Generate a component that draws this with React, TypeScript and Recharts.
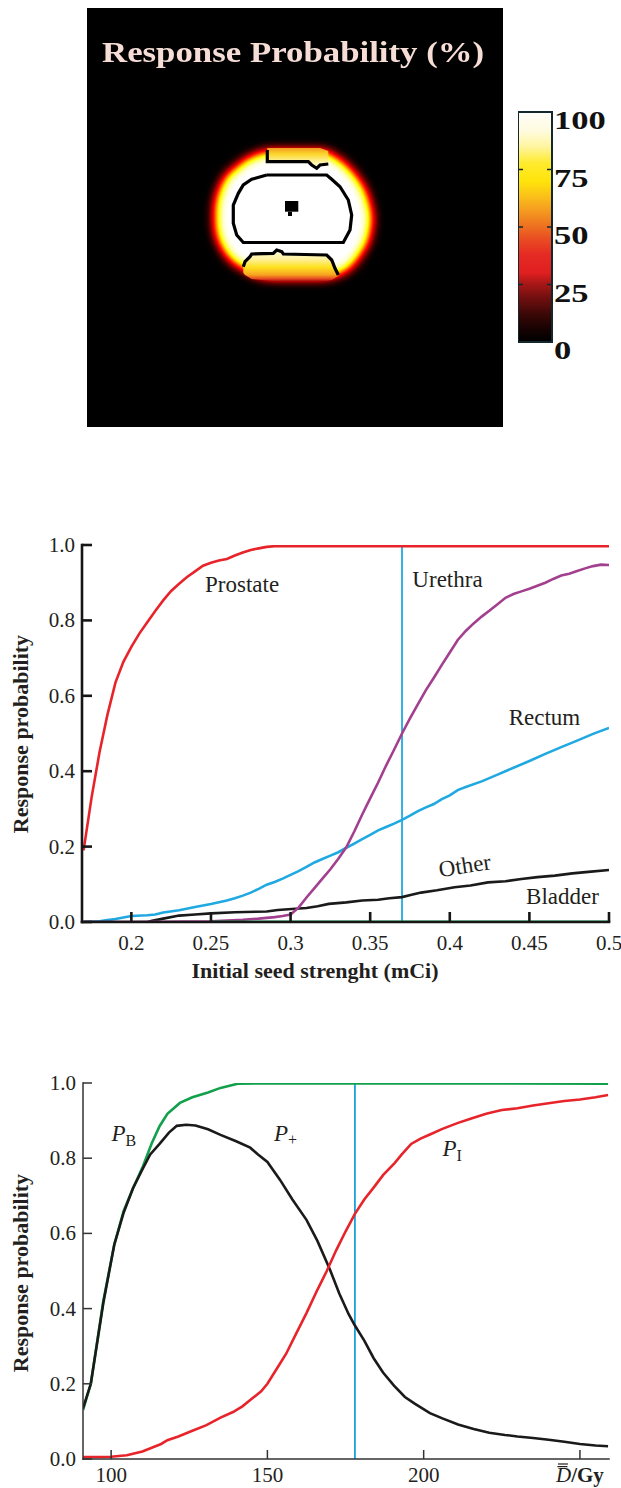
import React from 'react'
import { ComposedChart, BarChart, Bar, Line, Area, Scatter, XAxis, YAxis, ReferenceLine } from 'recharts'

const SERIF = '"Liberation Serif", "Times New Roman", serif'
const INK = '#231f20'

// ---- response map, image px measured from the panel's top-left corner
// [x, top, bottom]
const bodyOutline = [
  [125, 197, 220], [127, 185, 232], [130, 177, 239], [133, 170, 245], [138, 163, 252],
  [143, 158.7, 257], [149, 154, 261], [155, 149, 264], [161, 146, 268], [168, 143, 271],
  [175, 141, 272], [181, 140, 273], [213, 140, 273], [240, 140, 273], [250, 145, 271],
  [260, 152, 267], [267, 159, 262], [273, 166, 255], [279, 175, 246], [283, 184, 239],
  [286, 194, 230], [288, 204, 217],
]
const bladderBand = [
  [180.3, 140, 153.7], [221.3, 140, 153.7], [224.7, 140, 157], [229.7, 140, 160.3], [233, 140, 157], [241.3, 143, 156],
]
const rectumBand = [
  [156.3, 258.7, 265], [158, 253.7, 267], [163, 248.7, 270], [164.7, 246, 271], [186.3, 245.3, 273],
  [189.7, 242, 273], [194.7, 243.7, 273], [196.3, 246, 273], [239.7, 247, 273], [244.7, 252, 272],
  [248, 260.3, 270], [251.3, 267, 268],
]
const urethraBox = [[198, 193, 203.7], [211.3, 193, 203.7]]
const urethraTip = [[201, 203.7, 208], [205, 203.7, 208]]
// [x, y]
const prostateContour = [
  [179.7, 167], [164.7, 171.3], [156.3, 177], [151.3, 185.3], [146.3, 197], [146.3, 215.3], [149.7, 227],
  [156.3, 234.5], [256.3, 234.5], [263, 222], [264.7, 207], [261.3, 192], [253, 178.7], [244.7, 171.3],
  [239.7, 167], [179.7, 167],
]
const bladderEdge = [[180.3, 142], [180.3, 153.7], [221.3, 153.7], [224.7, 157], [229.7, 160.3], [233, 157], [241.3, 156]]
const rectumEdge = [
  [156.3, 258.7], [158, 253.7], [163, 248.7], [164.7, 246], [186.3, 245.3], [189.7, 242], [194.7, 243.7],
  [196.3, 246], [239.7, 247], [244.7, 252], [248, 260.3], [251.3, 267],
]
const scaleTicks = [0, 25, 50, 75, 100]
const scaleBar = [{ name: 'scale', value: 100 }]

// ---- response probability vs initial seed strength (mCi)
const seedTicks = [0.2, 0.25, 0.3, 0.35, 0.4, 0.45, 0.5]
const probTicks = [0, 0.2, 0.4, 0.6, 0.8, 1]
const prostate = [
  [0.17, 0.19], [0.175, 0.33], [0.18, 0.45], [0.185, 0.55], [0.19, 0.635], [0.195, 0.69], [0.2, 0.73],
  [0.205, 0.765], [0.21, 0.795], [0.215, 0.825], [0.22, 0.853], [0.225, 0.878], [0.23, 0.897], [0.235, 0.915],
  [0.24, 0.93], [0.245, 0.945], [0.25, 0.953], [0.255, 0.959], [0.26, 0.963], [0.265, 0.972], [0.27, 0.98],
  [0.275, 0.987], [0.28, 0.991], [0.285, 0.995], [0.29, 0.997], [0.35, 0.997], [0.4, 0.997], [0.45, 0.997], [0.5, 0.997],
]
const urethra = [
  [0.17, 0], [0.2, 0], [0.25, 0.002], [0.26, 0.004], [0.27, 0.006], [0.28, 0.009], [0.29, 0.013], [0.295, 0.016],
  [0.3, 0.02], [0.305, 0.038], [0.31, 0.065], [0.315, 0.09], [0.32, 0.115], [0.325, 0.14], [0.33, 0.168],
  [0.335, 0.198], [0.34, 0.24], [0.345, 0.285], [0.35, 0.328], [0.355, 0.37], [0.36, 0.415], [0.365, 0.457],
  [0.37, 0.5], [0.375, 0.54], [0.38, 0.578], [0.385, 0.615], [0.39, 0.648], [0.395, 0.682], [0.4, 0.715],
  [0.405, 0.748], [0.41, 0.772], [0.415, 0.792], [0.42, 0.81], [0.425, 0.826], [0.43, 0.843], [0.435, 0.86],
  [0.44, 0.87], [0.445, 0.877], [0.45, 0.884], [0.455, 0.892], [0.46, 0.9], [0.465, 0.91], [0.47, 0.919],
  [0.475, 0.924], [0.48, 0.931], [0.485, 0.938], [0.49, 0.944], [0.495, 0.948], [0.5, 0.947],
]
const rectum = [
  [0.17, 0], [0.18, 0.002], [0.185, 0.005], [0.19, 0.008], [0.195, 0.012], [0.2, 0.016], [0.21, 0.018],
  [0.215, 0.02], [0.22, 0.025], [0.23, 0.031], [0.24, 0.04], [0.25, 0.048], [0.26, 0.057], [0.265, 0.063],
  [0.27, 0.07], [0.275, 0.078], [0.28, 0.088], [0.285, 0.099], [0.29, 0.106], [0.295, 0.115], [0.3, 0.125],
  [0.305, 0.135], [0.31, 0.146], [0.315, 0.158], [0.32, 0.167], [0.325, 0.176], [0.33, 0.185], [0.335, 0.197],
  [0.34, 0.208], [0.345, 0.22], [0.35, 0.231], [0.355, 0.243], [0.36, 0.252], [0.365, 0.261], [0.37, 0.271],
  [0.375, 0.282], [0.38, 0.294], [0.385, 0.304], [0.39, 0.313], [0.395, 0.326], [0.4, 0.336], [0.405, 0.35],
  [0.41, 0.358], [0.42, 0.373], [0.43, 0.391], [0.44, 0.409], [0.45, 0.427], [0.46, 0.446], [0.47, 0.464],
  [0.48, 0.481], [0.49, 0.499], [0.5, 0.515],
]
const other = [
  [0.17, 0], [0.21, 0], [0.213, 0.003], [0.22, 0.009], [0.23, 0.017], [0.24, 0.02], [0.25, 0.023], [0.265, 0.026],
  [0.285, 0.028], [0.292, 0.032], [0.303, 0.035], [0.31, 0.037], [0.317, 0.042], [0.324, 0.048], [0.335, 0.052],
  [0.345, 0.057], [0.355, 0.059], [0.362, 0.063], [0.37, 0.066], [0.376, 0.072], [0.382, 0.078], [0.392, 0.084],
  [0.403, 0.092], [0.413, 0.097], [0.424, 0.105], [0.435, 0.108], [0.445, 0.114], [0.455, 0.119], [0.466, 0.123],
  [0.477, 0.129], [0.487, 0.133], [0.5, 0.138],
]
const bladder = [[0.25, 0], [0.5, 0]]
const seedRef = 0.37

// ---- response probability vs dose (Gy)
const doseTicks = [100, 150, 200, 250]
const pBenefit = [
  [91, 0.13], [93.5, 0.2], [97.5, 0.42], [101, 0.57], [104, 0.66], [107, 0.72], [110, 0.775], [113, 0.84],
  [115.5, 0.885], [118, 0.918], [122, 0.947], [126, 0.962], [131, 0.975], [135, 0.987], [140.5, 0.998],
  [150, 0.999], [200, 0.999], [259, 0.998],
]
const pPlus = [
  [91, 0.135], [93.5, 0.2], [97.5, 0.415], [101, 0.57], [104, 0.655], [107, 0.72], [110, 0.77], [112.5, 0.81],
  [115.5, 0.838], [118.5, 0.868], [121, 0.886], [124, 0.889], [127, 0.887], [131, 0.877], [135, 0.862],
  [140, 0.845], [144.5, 0.828], [147, 0.81], [150, 0.79], [154, 0.743], [158, 0.69], [162.5, 0.636], [166, 0.58],
  [170, 0.504], [173, 0.44], [176, 0.385], [178, 0.355], [181, 0.315], [184, 0.268], [187, 0.23], [190.5, 0.195],
  [194, 0.165], [197, 0.148], [202, 0.122], [206, 0.108], [211, 0.092], [216, 0.08], [221, 0.07], [226, 0.064],
  [230, 0.06], [235, 0.056], [240, 0.051], [245, 0.046], [250, 0.04], [255, 0.036], [259, 0.034],
]
const pInjury = [
  [91, 0.005], [100, 0.006], [105, 0.01], [110, 0.02], [113, 0.03], [116, 0.04], [118, 0.05], [121.5, 0.06],
  [126, 0.075], [130.5, 0.09], [135, 0.11], [139, 0.125], [142, 0.14], [145, 0.16], [148, 0.18], [150, 0.2],
  [153, 0.24], [156, 0.28], [159, 0.33], [162.5, 0.388], [166, 0.45], [169, 0.5], [172, 0.555], [175, 0.605],
  [178, 0.652], [181, 0.69], [184.3, 0.725], [187, 0.755], [190.7, 0.787], [193, 0.81], [196, 0.838],
  [199, 0.852], [202, 0.863], [206, 0.878], [211, 0.894], [215, 0.905], [220, 0.918], [225, 0.928], [230, 0.933],
  [235, 0.94], [240.5, 0.947], [245, 0.952], [250, 0.956], [255, 0.962], [259, 0.968],
]
const doseRef = 178

const xy = (pts: number[][]) => pts.map(([x, y]) => ({ x, y }))
const span = (pts: number[][]) => pts.map(([x, top, bottom]) => ({ x, span: [bottom, top] }))

type TickStyle = { stroke: string; width: number; len: number }

function inTick(x: number, y: number, side: string, st: TickStyle) {
  const dx = side === 'left' ? st.len : side === 'right' ? -st.len : 0
  const dy = side === 'bottom' ? -st.len : side === 'top' ? st.len : 0
  return <line x1={x} y1={y} x2={x + dx} y2={y + dy} stroke={st.stroke} strokeWidth={st.width} />
}

const mirrorTick = (side: string, st: TickStyle) => (p: any) => <g>{inTick(p.x, p.y, side, st)}</g>

const leftTick = (st: TickStyle) => (p: any) => (
  <g>
    {inTick(p.x, p.y, 'left', st)}
    <text x={p.x - 7} y={p.y + 7} textAnchor="end" fontFamily={SERIF} fontSize={21} fill={INK}>
      {Number(p.payload.value).toFixed(1)}
    </text>
  </g>
)

const seedTick = (st: TickStyle) => (p: any) => (
  <g>
    {inTick(p.x, p.y, 'bottom', st)}
    <text x={p.x} y={p.y + 28} textAnchor="middle" fontFamily={SERIF} fontSize={21} fill={INK}>
      {String(p.payload.value)}
    </text>
  </g>
)

const doseTick = (st: TickStyle) => (p: any) => {
  const v = p.payload.value
  if (v === doseTicks[doseTicks.length - 1]) {
    return (
      <g>
        {inTick(p.x, p.y, 'bottom', st)}
        <line x1={p.x - 22} x2={p.x - 12} y1={p.y + 5} y2={p.y + 5} stroke={INK} strokeWidth={1.2} />
        <line x1={p.x - 22.5} x2={p.x - 12.5} y1={p.y + 7.6} y2={p.y + 7.6} stroke={INK} strokeWidth={1.2} />
        <text x={p.x} y={p.y + 23} textAnchor="middle" fontFamily={SERIF} fontSize={21} fill={INK}>
          <tspan fontStyle="italic">D</tspan>
          <tspan fontWeight="bold">/Gy</tspan>
        </text>
      </g>
    )
  }
  return (
    <g>
      {inTick(p.x, p.y, 'bottom', st)}
      <text x={p.x} y={p.y + 23} textAnchor="middle" fontFamily={SERIF} fontSize={21} fill={INK}>
        {String(v)}
      </text>
    </g>
  )
}

const note = (text: string, angle = 0) => (p: any) => (
  <text
    x={p.cx}
    y={p.cy}
    fontFamily={SERIF}
    fontSize={23}
    fill={INK}
    transform={angle ? `rotate(${angle} ${p.cx} ${p.cy})` : undefined}
  >
    {text}
  </text>
)

const pNote = (sub: string, subDy: number) => (p: any) => (
  <text x={p.cx} y={p.cy} fontFamily={SERIF} fontSize={23} fill={INK} fontStyle="italic">
    P
    <tspan fontStyle="normal" fontSize={16} dy={subDy}>{sub}</tspan>
  </text>
)

function ResponseMap() {
  const line = { stroke: '#000', strokeWidth: 3.2, dot: false, activeDot: false, type: 'linear' as const, isAnimationActive: false }
  return (
    <ComposedChart width={416} height={419} margin={{ top: 0, right: 0, bottom: 0, left: 0 }}>
      <defs>
        <filter id="hotGlow" x="-15%" y="-15%" width="130%" height="130%" colorInterpolationFilters="sRGB">
          <feMorphology in="SourceAlpha" operator="erode" radius="3" result="core" />
          <feGaussianBlur in="core" stdDeviation="5.2" result="soft" />
          <feColorMatrix in="soft" type="matrix" values="0 0 0 1 0  0 0 0 1 0  0 0 0 1 0  0 0 0 0 1" />
          <feComponentTransfer>
            <feFuncR type="table" tableValues="0 0.33 0.67 1 1 1 1 1 1" />
            <feFuncG type="table" tableValues="0 0 0 0 0.33 0.67 1 1 1" />
            <feFuncB type="table" tableValues="0 0 0 0 0 0 0 0.5 1" />
          </feComponentTransfer>
        </filter>
        <linearGradient id="bladderFill" x1="0" y1="0" x2="0" y2="1">
          <stop offset="0%" stopColor="#f39a22" />
          <stop offset="30%" stopColor="#fcd62a" />
          <stop offset="70%" stopColor="#fff4a6" />
          <stop offset="100%" stopColor="#fffbea" />
        </linearGradient>
        <linearGradient id="rectumFill" x1="0" y1="0" x2="0" y2="1">
          <stop offset="0%" stopColor="#fffbe6" />
          <stop offset="30%" stopColor="#fff09a" />
          <stop offset="55%" stopColor="#ffe21f" />
          <stop offset="80%" stopColor="#f7a420" />
          <stop offset="93%" stopColor="#e54820" />
          <stop offset="100%" stopColor="#a81410" />
        </linearGradient>
      </defs>
      <XAxis type="number" dataKey="x" domain={[0, 416]} allowDataOverflow hide />
      <YAxis type="number" domain={[0, 419]} reversed allowDataOverflow hide />
      <Area data={span(bodyOutline)} dataKey="span" type="linear" fill="#ffffff" fillOpacity={1} stroke="none" filter="url(#hotGlow)" isAnimationActive={false} />
      <Area data={span(bladderBand)} dataKey="span" type="linear" fill="url(#bladderFill)" fillOpacity={1} stroke="none" isAnimationActive={false} />
      <Area data={span(rectumBand)} dataKey="span" type="linear" fill="url(#rectumFill)" fillOpacity={1} stroke="none" isAnimationActive={false} />
      <Area data={span(urethraBox)} dataKey="span" type="linear" fill="#000" fillOpacity={1} stroke="none" isAnimationActive={false} />
      <Area data={span(urethraTip)} dataKey="span" type="linear" fill="#000" fillOpacity={1} stroke="none" isAnimationActive={false} />
      <Line data={xy(prostateContour)} dataKey="y" {...line} />
      <Line data={xy(bladderEdge)} dataKey="y" {...line} />
      <Line data={xy(rectumEdge)} dataKey="y" {...line} />
    </ComposedChart>
  )
}

function ScaleTick(p: any) {
  const v = p.payload.value
  const mark = v > 0 && v < 100
  return (
    <g>
      {mark && <line x1={p.x - 1} x2={p.x - 5} y1={p.y} y2={p.y} stroke="#12282d" strokeWidth={1.5} />}
      {mark && <line x1={p.x - 33} x2={p.x - 29} y1={p.y} y2={p.y} stroke="#12282d" strokeWidth={1.5} />}
      <text
        transform={`translate(${p.x + 2},${p.y + 17}) scale(1.38,1)`}
        fontFamily={SERIF}
        fontWeight="bold"
        fontSize={25}
        fill="#111"
      >
        {String(v)}
      </text>
    </g>
  )
}

function ColorScale() {
  return (
    <BarChart width={100} height={272} data={scaleBar} margin={{ top: 10, right: 0, bottom: 32, left: 0 }} barCategoryGap={0}>
      <defs>
        <linearGradient id="hotScale" x1="0" y1="0" x2="0" y2="1">
          <stop offset="0%" stopColor="#fffdf8" />
          <stop offset="8%" stopColor="#fffbe0" />
          <stop offset="15%" stopColor="#fff5a0" />
          <stop offset="22%" stopColor="#ffeb30" />
          <stop offset="30%" stopColor="#ffe40a" />
          <stop offset="36%" stopColor="#fbc418" />
          <stop offset="42%" stopColor="#f5a020" />
          <stop offset="48%" stopColor="#ef7b20" />
          <stop offset="55%" stopColor="#e94e22" />
          <stop offset="62%" stopColor="#e52a24" />
          <stop offset="70%" stopColor="#df1f20" />
          <stop offset="74%" stopColor="#b01818" />
          <stop offset="80%" stopColor="#781010" />
          <stop offset="88%" stopColor="#3a0806" />
          <stop offset="95%" stopColor="#140202" />
          <stop offset="100%" stopColor="#000000" />
        </linearGradient>
      </defs>
      <XAxis dataKey="name" hide />
      <YAxis
        orientation="right"
        type="number"
        domain={[0, 100]}
        ticks={scaleTicks}
        interval={0}
        width={66}
        axisLine={false}
        tickLine={false}
        tickSize={0}
        tickMargin={0}
        tick={ScaleTick}
      />
      <Bar dataKey="value" fill="url(#hotScale)" stroke="#12282d" strokeWidth={2} isAnimationActive={false} />
    </BarChart>
  )
}

function SeedChart() {
  const st = { stroke: '#161616', width: 2.6, len: 10 }
  const frame = { stroke: '#161616', strokeWidth: 2.6, strokeLinecap: 'square' as const }
  const series = { dot: false, activeDot: false, type: 'linear' as const, strokeWidth: 2.6, isAnimationActive: false }
  return (
    <ComposedChart width={621} height={460} margin={{ top: 15, right: 12, bottom: 0, left: 0 }}>
      <XAxis type="number" dataKey="x" domain={[0.169, 0.5]} allowDataOverflow ticks={seedTicks} interval={0}
        height={68} axisLine={frame} tickLine={false} tickSize={0} tickMargin={0} tick={seedTick(st)} />
      <XAxis xAxisId="top" orientation="top" type="number" dataKey="x" domain={[0.169, 0.5]} allowDataOverflow
        ticks={seedTicks} interval={0} height={0} axisLine={frame} tickLine={false} tickSize={0} tickMargin={0}
        tick={mirrorTick('top', st)} />
      <YAxis type="number" domain={[0, 1]} allowDataOverflow ticks={probTicks} interval={0} width={82}
        axisLine={frame} tickLine={false} tickSize={0} tickMargin={0} tick={leftTick(st)} />
      <YAxis yAxisId="right" orientation="right" type="number" domain={[0, 1]} allowDataOverflow ticks={probTicks}
        interval={0} width={0} axisLine={frame} tickLine={false} tickSize={0} tickMargin={0}
        tick={mirrorTick('right', st)} />
      <ReferenceLine x={seedRef} stroke="#20a9e1" strokeWidth={1.8} />
      <Line data={xy(rectum)} dataKey="y" stroke="#20a9e1" {...series} />
      <Line data={xy(other)} dataKey="y" stroke="#1a1a1a" {...series} />
      <Line data={xy(urethra)} dataKey="y" stroke="#a2408f" {...series} />
      <Line data={xy(prostate)} dataKey="y" stroke="#e8242b" {...series} />
      <Line data={xy(bladder)} dataKey="y" stroke="#0d9b4d" {...series} strokeWidth={3} />
      <Scatter data={[{ x: 0.2463, y: 0.876 }]} dataKey="y" shape={note('Prostate')} isAnimationActive={false} />
      <Scatter data={[{ x: 0.3765, y: 0.889 }]} dataKey="y" shape={note('Urethra')} isAnimationActive={false} />
      <Scatter data={[{ x: 0.437, y: 0.522 }]} dataKey="y" shape={note('Rectum')} isAnimationActive={false} />
      <Scatter data={[{ x: 0.3939, y: 0.119 }]} dataKey="y" shape={note('Other', -9)} isAnimationActive={false} />
      <Scatter data={[{ x: 0.4479, y: 0.049 }]} dataKey="y" shape={note('Bladder')} isAnimationActive={false} />
    </ComposedChart>
  )
}

function DoseChart() {
  const st = { stroke: '#333', width: 1.5, len: 9 }
  const frame = { stroke: '#333', strokeWidth: 1.5, strokeLinecap: 'square' as const }
  const series = { dot: false, activeDot: false, type: 'linear' as const, strokeWidth: 2.6, isAnimationActive: false }
  return (
    <ComposedChart width={621} height={418} margin={{ top: 13, right: 12, bottom: 0, left: 0 }}>
      <XAxis type="number" dataKey="x" domain={[91, 259.3]} allowDataOverflow ticks={doseTicks} interval={0}
        height={29} axisLine={frame} tickLine={false} tickSize={0} tickMargin={0} tick={doseTick(st)} />
      <XAxis xAxisId="top" orientation="top" type="number" dataKey="x" domain={[91, 259.3]} allowDataOverflow
        ticks={doseTicks} interval={0} height={0} axisLine={frame} tickLine={false} tickSize={0} tickMargin={0}
        tick={mirrorTick('top', st)} />
      <YAxis type="number" domain={[0, 1]} allowDataOverflow ticks={probTicks} interval={0} width={83}
        axisLine={frame} tickLine={false} tickSize={0} tickMargin={0} tick={leftTick(st)} />
      <YAxis yAxisId="right" orientation="right" type="number" domain={[0, 1]} allowDataOverflow ticks={probTicks}
        interval={0} width={0} axisLine={frame} tickLine={false} tickSize={0} tickMargin={0}
        tick={mirrorTick('right', st)} />
      <ReferenceLine x={doseRef} stroke="#1aa2dc" strokeWidth={1.8} />
      <Line data={xy(pBenefit)} dataKey="y" stroke="#12a04c" {...series} />
      <Line data={xy(pPlus)} dataKey="y" stroke="#1a1a1a" {...series} />
      <Line data={xy(pInjury)} dataKey="y" stroke="#e8242b" {...series} />
      <Scatter data={[{ x: 100.1, y: 0.845 }]} dataKey="y" shape={pNote('B', 5)} isAnimationActive={false} />
      <Scatter data={[{ x: 152.1, y: 0.845 }]} dataKey="y" shape={pNote('+', 4)} isAnimationActive={false} />
      <Scatter data={[{ x: 206, y: 0.805 }]} dataKey="y" shape={pNote('I', 5)} isAnimationActive={false} />
    </ComposedChart>
  )
}

const abs = (left: number, top: number): React.CSSProperties => ({ position: 'absolute', left, top })

const yTitle = (cy: number): React.CSSProperties => ({
  position: 'absolute',
  left: 21,
  top: cy,
  transform: 'translate(-50%, -50%) rotate(-90deg)',
  fontFamily: SERIF,
  fontWeight: 'bold',
  fontSize: 22,
  lineHeight: 1,
  whiteSpace: 'nowrap',
  color: INK,
})

export default function App() {
  return (
    <div style={{ position: 'absolute', left: 0, top: 0, width: 621, height: 1488, background: '#fff', overflow: 'hidden' }}>
      <div style={{ ...abs(87, 8), width: 416, height: 419, background: '#000' }}>
        <ResponseMap />
      </div>
      <div
        style={{
          ...abs(102, 37),
          fontFamily: SERIF,
          fontWeight: 'bold',
          fontSize: 30,
          lineHeight: 1,
          color: '#f6ded6',
          whiteSpace: 'nowrap',
          transform: 'scaleX(1.16)',
          transformOrigin: 'left center',
        }}
      >
        Response Probability (%)
      </div>
      <div style={abs(518, 102)}>
        <ColorScale />
      </div>

      <div style={abs(0, 530)}>
        <SeedChart />
      </div>
      <div style={yTitle(734)}>Response probability</div>
      <div
        style={{
          ...abs(315, 959.6),
          transform: 'translateX(-50%)',
          fontFamily: SERIF,
          fontWeight: 'bold',
          fontSize: 22,
          lineHeight: 1,
          whiteSpace: 'nowrap',
          color: INK,
        }}
      >
        Initial seed strenght (mCi)
      </div>

      <div style={abs(0, 1070)}>
        <DoseChart />
      </div>
      <div style={yTitle(1273)}>Response probability</div>
    </div>
  )
}
